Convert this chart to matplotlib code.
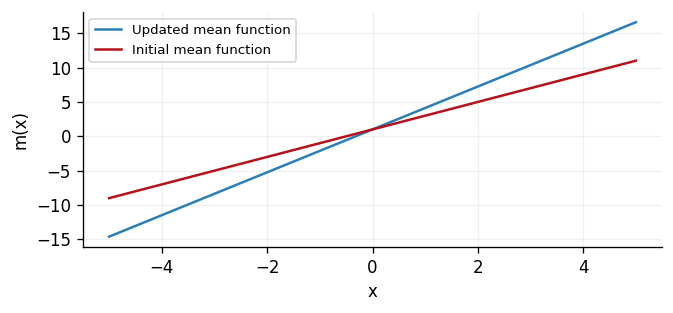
import matplotlib
matplotlib.use("Agg")
import matplotlib.pyplot as plt

# values
x = [-5, 0, 5]
updated_mean = [-14.6, 1.0, 16.6]
initial_mean = [-9.0, 1.0, 11.0]

fig, ax = plt.subplots(figsize=(673 / 120, 313 / 120), dpi=120)

ax.plot(x, updated_mean, color='#2b7fb6', lw=1.5, label='Updated mean function')
ax.plot(x, initial_mean, color='#b5121b', lw=1.5, label='Initial mean function')

ax.set_xlabel('x')
ax.set_ylabel('m(x)')
ax.set_xlim(-5.5, 5.5)
ax.set_ylim(-16.1, 18.1)
ax.set_yticks([-15, -10, -5, 0, 5, 10, 15])
ax.grid(True, color='#e6e6e6', lw=0.8, alpha=0.6)
ax.spines['top'].set_visible(False)
ax.spines['right'].set_visible(False)
ax.legend(loc='upper left', fontsize=8)

fig.subplots_adjust(left=0.123, right=0.984, top=0.962, bottom=0.211)
fig.savefig('out.png', dpi=120)
